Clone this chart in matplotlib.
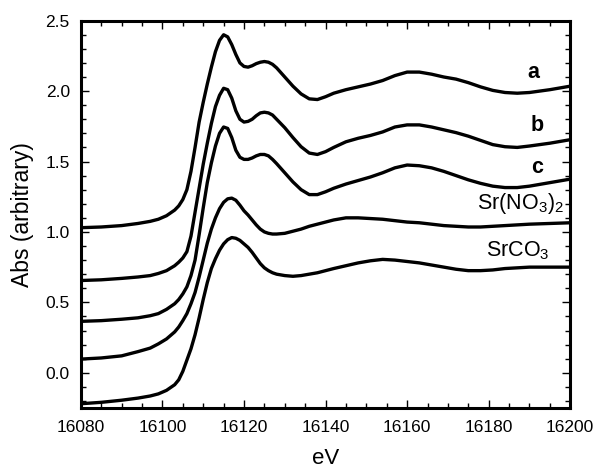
import numpy as np
import matplotlib
matplotlib.use("Agg")
import matplotlib.pyplot as plt
from matplotlib.ticker import MultipleLocator

plt.rcParams['font.family'] = ['Liberation Sans', 'DejaVu Sans']
plt.rcParams['mathtext.default'] = 'regular'

# Energy grid (eV) and spectra
energy = [16080, 16085, 16090, 16094, 16097, 16099, 16101, 16103, 16104, 16105,
          16106, 16107, 16108, 16109, 16110, 16111, 16112, 16113, 16114, 16115,
          16116, 16117, 16118, 16119, 16120, 16121, 16122, 16123, 16124, 16125,
          16126, 16127, 16128, 16130, 16132, 16134, 16136, 16138, 16140, 16142,
          16145, 16148, 16151, 16154, 16157, 16160, 16163, 16166, 16169, 16172,
          16175, 16178, 16181, 16184, 16187, 16190, 16195, 16200]

abs_a = [1.030, 1.035, 1.045, 1.060, 1.075, 1.090, 1.115, 1.155, 1.185, 1.23,
         1.30, 1.43, 1.60, 1.78, 1.92, 2.05, 2.17, 2.28, 2.36, 2.40,
         2.385, 2.33, 2.26, 2.20, 2.175, 2.17, 2.18, 2.195, 2.205, 2.21,
         2.205, 2.19, 2.165, 2.10, 2.035, 1.98, 1.945, 1.94, 1.96, 1.985,
         2.01, 2.03, 2.05, 2.075, 2.11, 2.135, 2.135, 2.12, 2.10, 2.085,
         2.06, 2.03, 2.005, 1.99, 1.985, 1.99, 2.01, 2.035]

abs_b = [0.655, 0.66, 0.67, 0.68, 0.69, 0.705, 0.725, 0.76, 0.785, 0.815,
         0.86, 0.97, 1.14, 1.31, 1.48, 1.63, 1.77, 1.89, 1.97, 2.02,
         2.01, 1.95, 1.86, 1.80, 1.78, 1.785, 1.80, 1.825, 1.845, 1.85,
         1.845, 1.83, 1.80, 1.74, 1.67, 1.605, 1.56, 1.55, 1.57, 1.60,
         1.64, 1.665, 1.685, 1.71, 1.745, 1.76, 1.76, 1.745, 1.725, 1.705,
         1.68, 1.65, 1.62, 1.605, 1.60, 1.61, 1.63, 1.655]

abs_c = [0.365, 0.37, 0.38, 0.39, 0.405, 0.42, 0.45, 0.49, 0.52, 0.56,
         0.61, 0.69, 0.80, 0.98, 1.17, 1.35, 1.49, 1.61, 1.70, 1.745,
         1.735, 1.67, 1.58, 1.53, 1.515, 1.515, 1.525, 1.54, 1.55, 1.55,
         1.54, 1.515, 1.485, 1.42, 1.355, 1.30, 1.265, 1.265, 1.285, 1.31,
         1.34, 1.365, 1.39, 1.42, 1.455, 1.475, 1.47, 1.455, 1.43, 1.40,
         1.37, 1.345, 1.325, 1.315, 1.315, 1.325, 1.35, 1.375]

abs_nitrate = [0.097, 0.105, 0.12, 0.15, 0.175, 0.205, 0.24, 0.29, 0.325, 0.37,
               0.42, 0.49, 0.57, 0.68, 0.80, 0.92, 1.02, 1.10, 1.165, 1.21,
               1.235, 1.24, 1.225, 1.19, 1.15, 1.12, 1.085, 1.05, 1.02, 1.00,
               0.99, 0.985, 0.985, 0.99, 1.005, 1.02, 1.04, 1.055, 1.07, 1.085,
               1.10, 1.10, 1.095, 1.09, 1.08, 1.07, 1.065, 1.055, 1.045, 1.04,
               1.035, 1.035, 1.04, 1.045, 1.05, 1.055, 1.06, 1.065]

abs_carbonate = [-0.22, -0.21, -0.195, -0.18, -0.165, -0.15, -0.125, -0.085, -0.05, 0.01,
                 0.09, 0.17, 0.27, 0.39, 0.52, 0.64, 0.74, 0.81, 0.87, 0.915,
                 0.945, 0.96, 0.955, 0.94, 0.915, 0.89, 0.855, 0.815, 0.775, 0.745,
                 0.725, 0.71, 0.70, 0.69, 0.685, 0.69, 0.70, 0.71, 0.725, 0.74,
                 0.76, 0.78, 0.795, 0.805, 0.80, 0.79, 0.78, 0.765, 0.75, 0.735,
                 0.725, 0.725, 0.73, 0.74, 0.745, 0.75, 0.75, 0.75]

fig = plt.figure(figsize=(5.99, 4.70), dpi=100)
ax = fig.add_axes([0.135, 0.132, 0.817, 0.824])

for spec in [abs_a, abs_b, abs_c, abs_nitrate, abs_carbonate]:
    ax.plot(energy, spec, color='black', linewidth=2.4,
            solid_joinstyle='round', solid_capstyle='round')

# curve labels
ax.text(16191, 2.09, 'a', fontsize=15.5, fontweight='bold', ha='center', va='baseline')
ax.text(16192, 1.72, 'b', fontsize=15.5, fontweight='bold', ha='center', va='baseline')
ax.text(16192, 1.415, 'c', fontsize=15.5, fontweight='bold', ha='center', va='baseline')
ax.text(16198.5, 1.16, 'Sr(NO$_3$)$_2$', fontsize=15.5, ha='right', va='baseline')
ax.text(16195, 0.825, 'SrCO$_3$', fontsize=15.5, ha='right', va='baseline')

ax.set_xlim(16080, 16200)
ax.set_ylim(-0.25, 2.5)
ax.xaxis.set_major_locator(MultipleLocator(20))
ax.xaxis.set_minor_locator(MultipleLocator(5))
ax.yaxis.set_major_locator(MultipleLocator(0.5))
ax.yaxis.set_minor_locator(MultipleLocator(0.1))
ax.yaxis.set_major_formatter(plt.FormatStrFormatter('%.1f'))

ax.tick_params(which='both', direction='in', top=True, right=True, width=1)
ax.tick_params(which='major', length=6, labelsize=12.5)
ax.tick_params(axis='x', which='major', pad=9)
ax.tick_params(axis='y', which='major', pad=8)
ax.tick_params(which='minor', length=3.5)
for s in ax.spines.values():
    s.set_linewidth(2.2)

ax.set_xlabel('eV', fontsize=16, labelpad=9)
ax.set_ylabel('Abs (arbitrary)', fontsize=16.5, labelpad=8)

fig.savefig('out.png', dpi=100)
